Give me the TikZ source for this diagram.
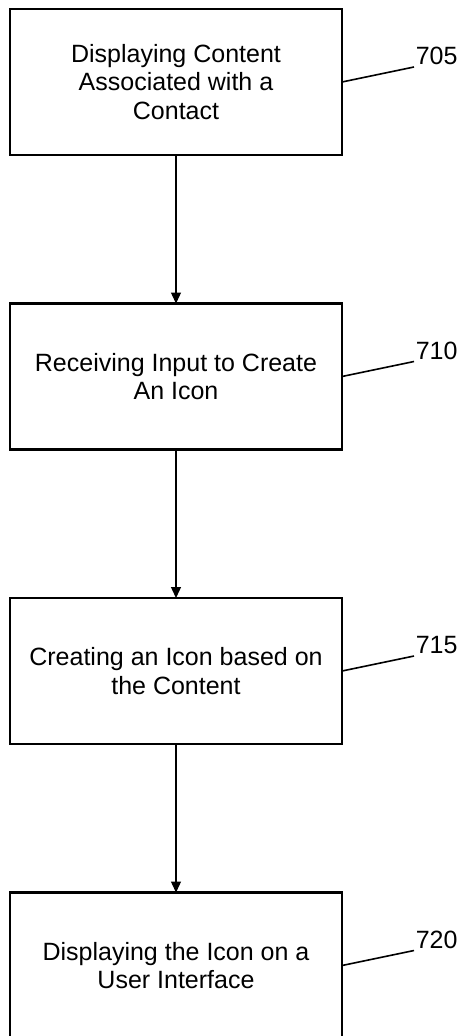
\documentclass[tikz,border=0pt]{standalone}
\usepackage{fontspec}
\setmainfont{Liberation Sans}
\usetikzlibrary{arrows.meta, calc, positioning}

\tikzset{
  stepbox/.style={draw, line width=2.8bp, outer sep=0pt, minimum width=332bp, minimum height=146bp, align=center, font=\fontsize{25bp}{28.5bp}\selectfont},
  flow/.style={-{Triangle[length=11bp,width=10bp]}, line width=1.3bp},
  leader/.style={line width=1.6bp},
  refnum/.style={anchor=south west, inner sep=1bp, font=\fontsize{25bp}{28.5bp}\selectfont}
}

\begin{document}
\begin{tikzpicture}[x=1bp, y=1bp, node distance=148.5bp]
\useasboundingbox (0,0) rectangle (458,-1036);

% steps
\node[stepbox] (b705) at (176,-82) {Displaying Content\\Associated with a\\Contact};
\node[stepbox, below=of b705] (b710) {Receiving Input to Create\\An Icon};
\node[stepbox, below=of b710] (b715) {Creating an Icon based on\\the Content};
\node[stepbox, below=of b715] (b720) {Displaying the Icon on a\\User Interface};

\draw[flow] (b705) -- (b710);
\draw[flow] (b710) -- (b715);
\draw[flow] (b715) -- (b720);

% reference numbers
\foreach \n in {705,710,715,720} {
  \coordinate (r\n) at ($(b\n.east)+(72,15)$);
  \draw[leader] (b\n.east) -- (r\n) node[refnum] {\n};
}
\end{tikzpicture}
\end{document}
